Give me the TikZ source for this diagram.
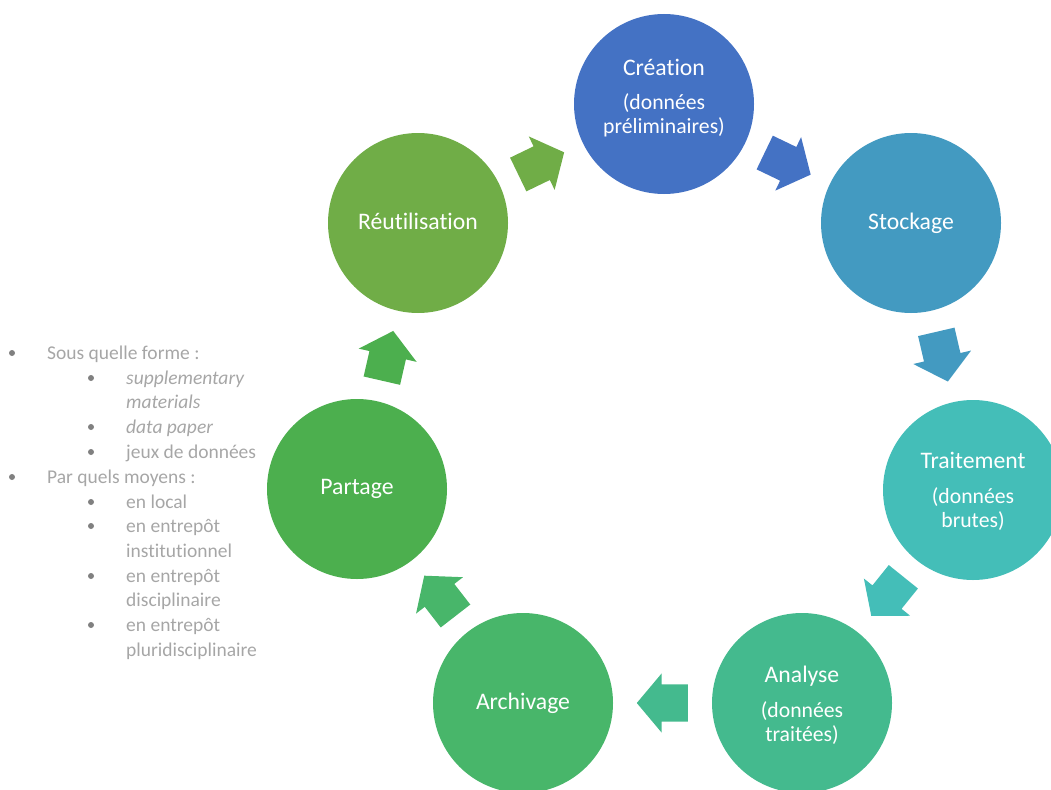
\documentclass[tikz,border=0pt]{standalone}
\usepackage{fontspec}
\setmainfont{Carlito}[Ligatures=NoCommon]
\usetikzlibrary{shapes.arrows,calc}
\definecolor{cCre}{HTML}{4472C4}
\definecolor{cSto}{HTML}{439AC1}
\definecolor{cTra}{HTML}{44BEB8}
\definecolor{cAna}{HTML}{44BA8E}
\definecolor{cArc}{HTML}{48B66A}
\definecolor{cPar}{HTML}{4CAF4E}
\definecolor{cReu}{HTML}{70AD47}
\definecolor{gristexte}{HTML}{A6A6A6}
\definecolor{grispuce}{HTML}{808080}

\begin{document}
\begin{tikzpicture}[x=1pt,y=-1pt]
	\tikzstyle{etape} = [circle, minimum size=180pt, inner sep=0pt]
	\tikzstyle{texte} = [text=white, align=center, inner sep=0pt, font=\fontsize{21.7}{24}\selectfont]
	\tikzstyle{titre} = [text=white, inner sep=0pt, font=\fontsize{23.7}{28}\selectfont]
	\tikzstyle{fleche} = [single arrow, anchor=tail, minimum height=51pt, inner xsep=0pt, inner ysep=18.5pt, single arrow head extend=11pt, single arrow tip angle=100]
	\tikzstyle{liste} = [anchor=base west, inner sep=0pt, text=gristexte, font=\fontsize{19.5}{24}\selectfont]
	\useasboundingbox (0,0) rectangle (1051,789);
	\clip (0,0) rectangle (1051,789);
	% les sept etapes du cycle
		\node[etape, fill=cCre] (cre) at (664,104) {};
		\node[etape, fill=cSto] (sto) at (911,223) {};
		\node[etape, fill=cTra] (tra) at (973,490) {};
		\node[etape, fill=cAna] (ana) at (802,703) {};
		\node[etape, fill=cArc] (arc) at (523,703) {};
		\node[etape, fill=cPar] (par) at (357,489) {};
		\node[etape, fill=cReu] (reu) at (418,223) {};
	% textes
		\node[texte] (creT) at ([yshift=6pt]cre) {{\fontsize{23.7}{28}\selectfont Création}\\[10pt](données\\préliminaires)};
		\node[titre] (stoT) at (sto) {Stockage};
		\node[texte] (traT) at ([yshift=-1.5pt]tra) {{\fontsize{23.7}{28}\selectfont Traitement}\\[11pt](données\\brutes)};
		\node[texte] (anaT) at ([yshift=-2.5pt]ana) {{\fontsize{23.7}{28}\selectfont Analyse}\\[11pt](données\\traitées)};
		\node[titre] (arcT) at (arc) {Archivage};
		\node[titre] (parT) at (par) {Partage};
		\node[titre] (reuT) at ([yshift=2pt]reu) {Réutilisation};
	% fleches, posees par leur queue
		\node[fleche, fill=cCre, rotate=-25.7] (f1) at ($(cre)!0.5!(sto)!25.5pt!(cre)$) {};
		\node[fleche, fill=cSto, rotate=-76.9] (f2) at ($(sto)!0.5!(tra)!25.5pt!(sto)$) {};
		\begin{scope}
			\clip (830,540) rectangle (950,615);
			\node[fleche, fill=cTra, rotate=-128.8] (f3) at ($(tra)!0.5!(ana)!25.5pt!(tra)$) {};
		\end{scope}
		\node[fleche, fill=cAna, rotate=180] (f4) at ($(ana)!0.5!(arc)!25.5pt!(ana)$) {};
		\node[fleche, fill=cArc, rotate=127.8] (f5) at ($(arc)!0.5!(par)!25.5pt!(arc)$) {};
		\node[fleche, fill=cPar, rotate=77.1] (f6) at ($(par)!0.5!(reu)!25.5pt!(par)$) {};
		\node[fleche, fill=cReu, rotate=25.8] (f7) at ($(reu)!0.5!(cre)!25.5pt!(reu)$) {};
	% liste a gauche
	\fill [grispuce]
			(12,353) circle (3pt)
			(91,378) circle (3pt)
			(91,427) circle (3pt)
			(91,452) circle (3pt)
			(12,477) circle (3pt)
			(91,502) circle (3pt)
			(91,526) circle (3pt)
			(91,576) circle (3pt)
			(91,625) circle (3pt);
		\node[liste] (l1) at (47,359) {Sous quelle forme :};
		\node[liste] (l2) at (126,384) {\textit{supplementary}};
		\node[liste] (l3) at (126,408) {\textit{materials}};
		\node[liste] (l4) at (126,433) {\textit{data paper}};
		\node[liste] (l5) at (126,458) {jeux de données};
		\node[liste] (l6) at (47,483) {Par quels moyens :};
		\node[liste] (l7) at (126,508) {en local};
		\node[liste] (l8) at (126,532) {en entrepôt};
		\node[liste] (l9) at (126,557) {institutionnel};
		\node[liste] (l10) at (126,582) {en entrepôt};
		\node[liste] (l11) at (126,606) {disciplinaire};
		\node[liste] (l12) at (126,631) {en entrepôt};
		\node[liste] (l13) at (126,656) {pluridisciplinaire};
	\end{tikzpicture}
\end{document}
